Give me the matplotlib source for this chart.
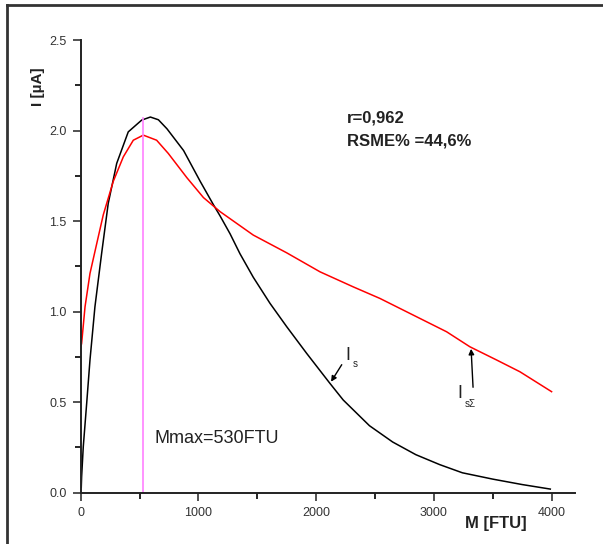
import numpy as np
import matplotlib
matplotlib.use("Agg")
import matplotlib.pyplot as plt
from matplotlib.lines import Line2D

plt.rcParams['font.family'] = ['Liberation Sans', 'DejaVu Sans']

# measured curve I_s (black)
m_s = [5, 8, 22, 51, 79, 121, 178, 234, 306, 404, 518, 592, 660, 733, 874,
       1015, 1128, 1183, 1269, 1353, 1466, 1608, 1750, 1919, 2117, 2230, 2453,
       2650, 2847, 3050, 3242, 3500, 3750, 3989]
i_s = [0.03, 0.088, 0.254, 0.494, 0.733, 1.027, 1.322, 1.598, 1.819, 1.993,
       2.058, 2.075, 2.06, 2.01, 1.89, 1.72, 1.59, 1.53, 1.43, 1.32, 1.19,
       1.046, 0.917, 0.770, 0.604, 0.512, 0.37, 0.28, 0.21, 0.155, 0.11, 0.075,
       0.045, 0.02]

# model curve I_sΣ (red)
m_sz = [0, 8, 37, 79, 136, 192, 277, 362, 447, 532, 645, 744, 902, 1043, 1185,
        1466, 1750, 2033, 2315, 2542, 2825, 3108, 3306, 3533, 3731, 4000]
i_sz = [0.80, 0.825, 1.027, 1.211, 1.375, 1.535, 1.72, 1.855, 1.947, 1.975,
        1.947, 1.874, 1.74, 1.63, 1.552, 1.423, 1.325, 1.22, 1.137, 1.073,
        0.981, 0.889, 0.806, 0.733, 0.668, 0.558]

m_max = 530
i_peak = 2.07

fig = plt.figure(figsize=(6.03, 5.44), dpi=100)
ax = fig.add_axes([0.1338, 0.0943, 0.820, 0.832])

ax.plot(m_s, i_s, color='black', lw=1.1)
ax.plot(m_sz, i_sz, color='red', lw=1.1)
ax.plot([m_max, m_max], [0, i_peak], color='#ff80ff', lw=1.2)

ax.set_xlim(0, 4200)
ax.set_ylim(0, 2.5)
ax.set_xticks([0, 1000, 2000, 3000, 4000])
ax.set_xticks([500, 1500, 2500, 3500], minor=True)
ax.set_yticks([0.0, 0.5, 1.0, 1.5, 2.0, 2.5])
ax.set_yticks([0.25, 0.75, 1.25, 1.75, 2.25], minor=True)
ax.set_yticklabels(['0.0', '0.5', '1.0', '1.5', '2.0', '2.5'])
ax.tick_params(which='major', direction='out', length=6, width=1.2,
               labelsize=9, colors='#333333', pad=4)
ax.tick_params(which='minor', direction='out', length=4, width=1.2)
for s in ['top', 'right']:
    ax.spines[s].set_visible(False)
for s in ['left', 'bottom']:
    ax.spines[s].set_linewidth(1.4)
    ax.spines[s].set_color('#222222')

ax.text(2260, 2.07, 'r=0,962', fontsize=12, fontweight='bold', color='#222222',
        va='center')
ax.text(2260, 1.94, 'RSME% =44,6%', fontsize=12, fontweight='bold', color='#222222',
        va='center')
ax.text(630, 0.30, 'Mmax=530FTU', fontsize=13, color='#222222', va='center')

# curve labels with arrows
ax.annotate('', xy=(2114, 0.60), xytext=(2230, 0.72),
            arrowprops=dict(arrowstyle='-|>', color='black', lw=1.0, mutation_scale=8))
ax.text(2250, 0.76, 'I', fontsize=13, color='#222222', va='center')
ax.text(2310, 0.71, 's', fontsize=7, color='#222222', va='center')

ax.annotate('', xy=(3315, 0.81), xytext=(3334, 0.567),
            arrowprops=dict(arrowstyle='-|>', color='black', lw=1.0, mutation_scale=8))
ax.text(3200, 0.55, 'I', fontsize=13, color='#222222', va='center')
ax.text(3260, 0.49, 'sΣ', fontsize=7, color='#222222', va='center')

fig.text(0.823, 0.038, 'M [FTU]', fontsize=12, fontweight='bold', color='#222222',
         ha='center', va='center')
fig.text(0.063, 0.84, 'I [µA]', fontsize=11, fontweight='bold', color='#222222',
         rotation=90, ha='center', va='center')

# outer frame (top and left edges)
fig.add_artist(Line2D([0.012, 1.0], [0.991, 0.991], transform=fig.transFigure,
                      color='#333333', lw=2))
fig.add_artist(Line2D([0.012, 0.012], [0.0, 0.991], transform=fig.transFigure,
                      color='#333333', lw=2))

fig.savefig('out.png', dpi=100)
